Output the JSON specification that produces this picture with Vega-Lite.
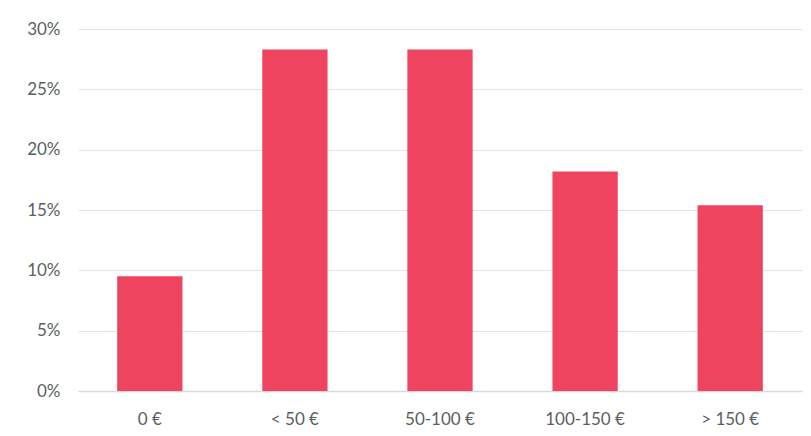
{
  "$schema": "https://vega.github.io/schema/vega-lite/v6.json",
  "width": 724,
  "height": 362,
  "autosize": {"type": "none"},
  "padding": {"left": 78, "top": 29, "right": 9, "bottom": 45},
  "background": "white",
  "config": {
    "view": {"stroke": null},
    "font": "Lato"
  },
  "data": {
    "values": [
      {"range": "0 €", "share": 0.095},
      {"range": "< 50 €", "share": 0.283},
      {"range": "50-100 €", "share": 0.283},
      {"range": "100-150 €", "share": 0.182},
      {"range": "> 150 €", "share": 0.154}
    ]
  },
  "mark": {"type": "bar", "color": "#EF4460"},
  "encoding": {
    "x": {
      "field": "range",
      "type": "nominal",
      "sort": null,
      "scale": {"paddingInner": 0.55, "paddingOuter": 0.27},
      "axis": {
        "title": null,
        "labelAngle": 0,
        "labelFont": "Lato",
        "labelFontSize": 17,
        "labelColor": "#5a5f60",
        "labelPadding": 20,
        "ticks": false,
        "domainColor": "#d9d9d9",
        "domainWidth": 1.5,
        "grid": false
      }
    },
    "y": {
      "field": "share",
      "type": "quantitative",
      "scale": {"domain": [0, 0.3], "nice": false},
      "axis": {
        "title": null,
        "format": ".0%",
        "values": [0, 0.05, 0.1, 0.15, 0.2, 0.25, 0.3],
        "labelFont": "Lato",
        "labelFontSize": 17,
        "labelColor": "#5a5f60",
        "labelPadding": 18,
        "ticks": false,
        "domain": false,
        "grid": true,
        "gridColor": "#e3e3e3",
        "gridWidth": 1.2
      }
    }
  }
}
